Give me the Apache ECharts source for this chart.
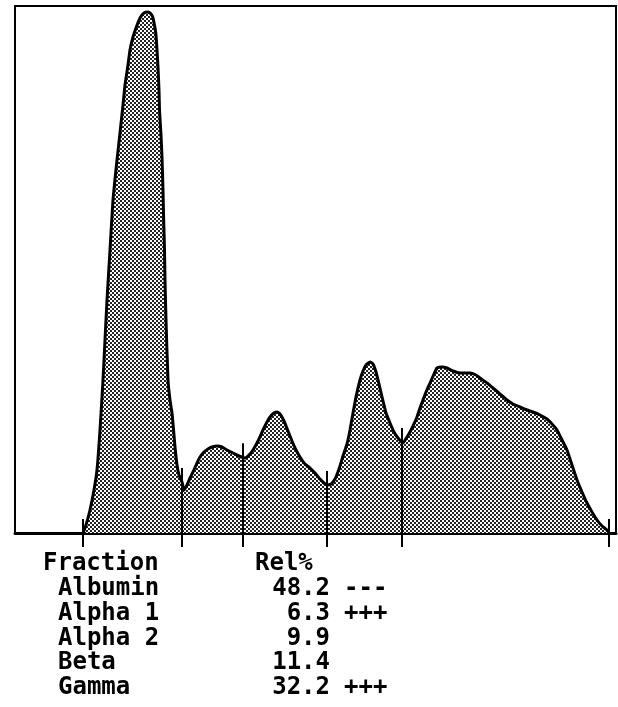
<!DOCTYPE html>
<html>
<head>
<meta charset="utf-8">
<script src="https://cdn.jsdelivr.net/npm/echarts@6/dist/echarts.min.js"></script>
<style>html,body{margin:0;padding:0;background:#fff}#c{width:618px;height:707px}</style>
</head>
<body>
<div id="c"></div>
<script>
// Densitometer trace: mobility position vs. optical density (arbitrary units)
const mobility = [68,71,75,79,82,85,88,90,92,95,98,102,105,108,110,113,115,118,121,125,129,133,136,138,140,141,142,143,144,144.5,146,147,148,148.5,149.5,150,151,153,155,157,159,160,162,164,167,169,172,175,178,182,185,189,193,197,202,207,212,218,224,230,234,238,243,248,252,255,259,262,265,269,273,277,281,285,290,295,300,305,309,312,316,320,324,328,332,335,338,341,345,348,351,355,358,361,364,368,371,375,379,383,388,392,395,398,402,405,408,411,415,419,422,427,432,438,445,455,461,465,472,478,485,492,498,505,512,518,525,532,537,542,547,552,557,562,567,572,577,582,587,592,594];
const density  = [0,8,23,43,63,103,153,193,233,283,333,373,400,428,448,468,483,496,505,515,520,521,519,515,505,498,483,466,443,423,398,376,343,320,283,253,213,153,133,120,98,86,68,58,51,43,48,55,61,70,76,81,84,86,87,86,83,80,77,75,78,83,92,103,111,116,120,121,119,112,102,92,83,76,69,65,60,54,50,48,49,54,64,77,89,103,120,136,153,162,168,171,169,161,149,132,120,110,101,95,90,96,101,107,116,125,133,141,150,159,165,166,165,162,160,160,158,155,150,145,139,133,129,126,123,121,118,114,109,103,93,83,68,53,41,30,21,13,7,3,0];
// Fraction boundaries on the mobility axis
const boundaries = [68,167,228,312,387,594];
// Table
const headerFraction = 'Fraction';
const headerRel = 'Rel%';
const fractions = ['Albumin','Alpha 1','Alpha 2','Beta','Gamma'];
const relPct = [48.2, 6.3, 9.9, 11.4, 32.2];
const flags = ['---','+++','','','+++'];

function heightAt(x){
  for(let i=0;i<mobility.length-1;i++){
    if(x>=mobility[i] && x<=mobility[i+1]){
      const t=(x-mobility[i])/(mobility[i+1]-mobility[i]||1);
      return density[i]+t*(density[i+1]-density[i]);
    }
  }
  return 0;
}

const pc=document.createElement('canvas');
pc.width=4;pc.height=4;
const g=pc.getContext('2d');
g.fillStyle='#fff';g.fillRect(0,0,4,4);
g.fillStyle='#222';g.fillRect(0,0,2,2);g.fillRect(2,2,2,2);

const chart=echarts.init(document.getElementById('c'),null,{renderer:'canvas'});
const FONT='bold 24px "DejaVu Sans Mono", "Liberation Mono", monospace';
const headerY=564;
const rowY=[589,614,639,663,688];
const graphics=[
  {type:'text',x:43,y:headerY,style:{text:headerFraction,font:FONT,fill:'#000',textVerticalAlign:'middle'}},
  {type:'text',x:255,y:headerY,style:{text:headerRel,font:FONT,fill:'#000',textVerticalAlign:'middle'}}
];
fractions.forEach((f,i)=>{
  graphics.push({type:'text',x:58,y:rowY[i],style:{text:f,font:FONT,fill:'#000',textVerticalAlign:'middle'}});
  graphics.push({type:'text',x:330,y:rowY[i],style:{text:relPct[i].toFixed(1),font:FONT,fill:'#000',textAlign:'right',textVerticalAlign:'middle'}});
  if(flags[i]) graphics.push({type:'text',x:344,y:rowY[i],style:{text:flags[i],font:FONT,fill:'#000',textVerticalAlign:'middle'}});
});

chart.setOption({
  animation:false,
  backgroundColor:'#fff',
  grid:{left:15,right:2,top:6,bottom:174,show:true,borderColor:'#000',borderWidth:2,backgroundColor:'transparent'},
  xAxis:{type:'value',min:0,max:601,axisLine:{show:true,lineStyle:{color:'#000',width:3}},axisTick:{show:false},axisLabel:{show:false},splitLine:{show:false}},
  yAxis:{type:'value',min:0,max:527,axisLine:{show:false},axisTick:{show:false},axisLabel:{show:false},splitLine:{show:false}},
  series:[
    {type:'line',data:mobility.map((x,i)=>[x,density[i]]),symbol:'none',smooth:0.15,
     lineStyle:{color:'#000',width:3},
     areaStyle:{color:{image:pc,repeat:'repeat'},opacity:1},z:2},
    {type:'custom',clip:false,z:5,data:boundaries.map(b=>[b,heightAt(b)]),
     renderItem:function(params,api){
       const x=api.value(0),h=api.value(1);
       const top=api.coord([x,h]);
       const base=api.coord([x,0]);
       return {type:'line',shape:{x1:top[0],y1:top[1]-14,x2:base[0],y2:base[1]+14},style:{stroke:'#000',lineWidth:2}};
     }}
  ],
  graphic:graphics
});
</script>
</body>
</html>
